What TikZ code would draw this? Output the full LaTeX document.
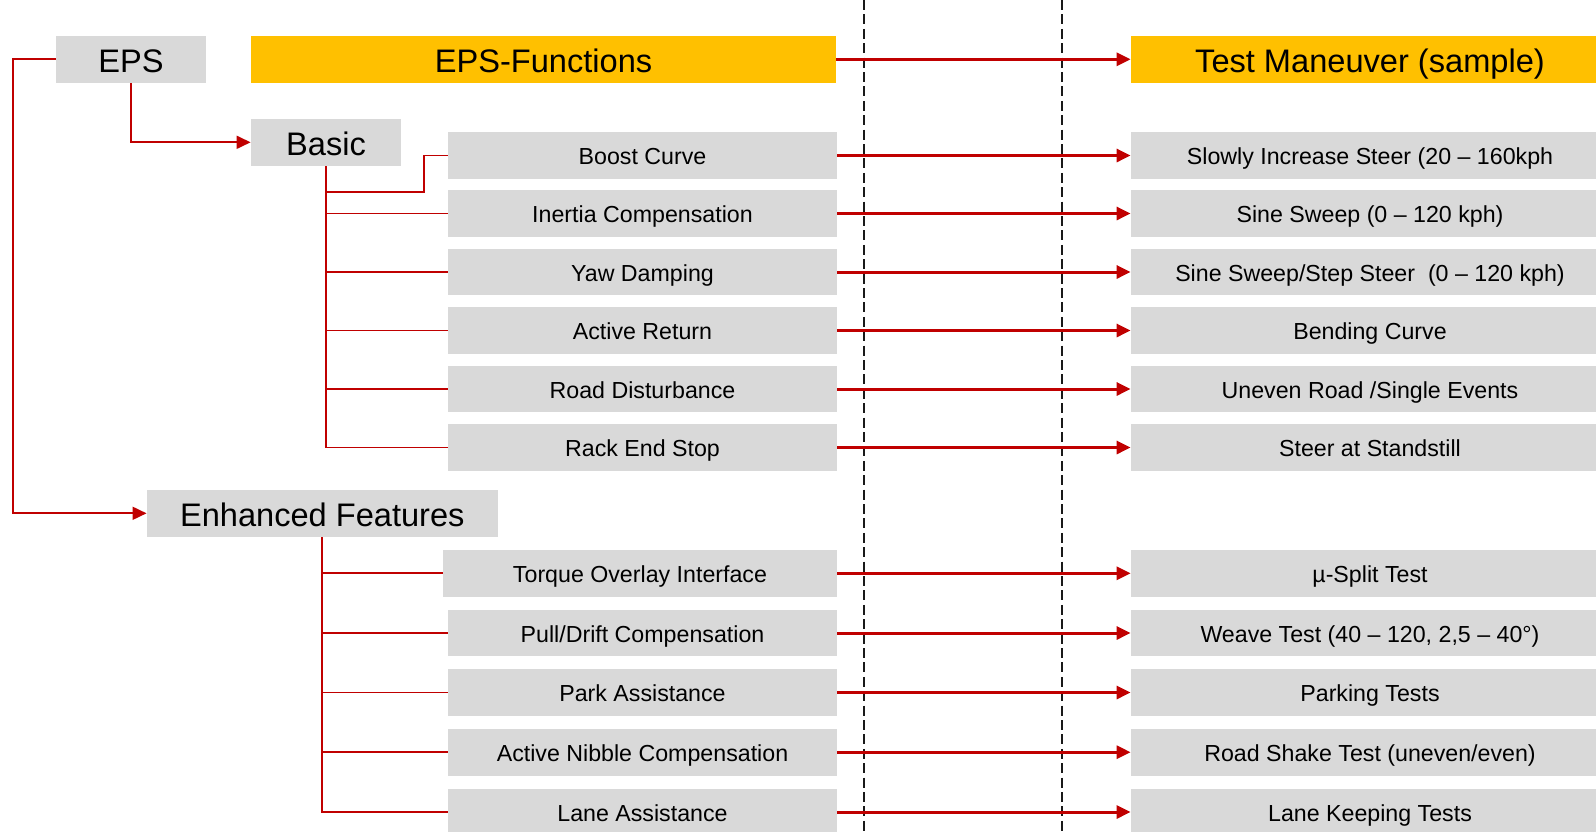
\documentclass[tikz,border=0pt]{standalone}
\usepackage{fontspec}
\setmainfont{Liberation Sans}
\usetikzlibrary{arrows.meta}
\definecolor{boxgray}{HTML}{D9D9D9}
\definecolor{headyellow}{HTML}{FFC000}
\definecolor{linkred}{HTML}{C00000}

\begin{document}
\begin{tikzpicture}[
  x=0.5pt, y=-0.5pt,
  box/.style={fill=boxgray, inner sep=0pt, minimum height=23.35pt,
    text height=9.2pt, text depth=0pt,
    font=\fontsize{11.6}{14}\selectfont},
  bigbox/.style={box, text height=13.6pt, font=\fontsize{16.3}{19}\selectfont},
  head/.style={bigbox, fill=headyellow},
  tree/.style={draw=linkred, line width=0.9pt},
  tip/.style={-{Triangle[length=7pt,width=6.5pt]}},
  link/.style={draw=linkred, line width=1.5pt, tip},
  guide/.style={draw=black!90, line width=0.85pt, dash pattern=on 5pt off 2.2pt},
]
  \useasboundingbox (0,0) rectangle (1596,831);

  % column dividers
  \draw[guide] (864.3,0) -- (864.3,831);
  \draw[guide] (1061.7,0) -- (1061.7,831);

  % headers
  \node[bigbox, minimum width=75pt] (eps) at (131,59.3) {EPS};
  \node[head, minimum width=292.5pt] (funcs) at (543.5,59.3) {EPS-Functions};
  \node[head, minimum width=239pt] (tests) at (1370,59.3) {Test Maneuver (sample)};
  \node[bigbox, minimum width=75pt] (basic) at (326,142.3) {Basic};
  \node[bigbox, minimum width=175.35pt] (enh) at (322.3,513.3) {Enhanced Features};

  % functions
  \node[box, minimum width=194.5pt] (f1) at (642.5,155.5) {Boost Curve};
  \node[box, minimum width=194.5pt] (f2) at (642.5,213.5) {Inertia Compensation};
  \node[box, minimum width=194.5pt] (f3) at (642.5,272) {Yaw Damping};
  \node[box, minimum width=194.5pt] (f4) at (642.5,330.5) {Active Return};
  \node[box, minimum width=194.5pt] (f5) at (642.5,389) {Road Disturbance};
  \node[box, minimum width=194.5pt] (f6) at (642.5,447.5) {Rack End Stop};
  \node[box, minimum width=197pt] (f7) at (640,573.3) {Torque Overlay Interface};
  \node[box, minimum width=194.5pt] (f8) at (642.5,633) {Pull/Drift Compensation};
  \node[box, minimum width=194.5pt] (f9) at (642.5,692.5) {Park Assistance};
  \node[box, minimum width=194.5pt] (f10) at (642.5,752.2) {Active Nibble Compensation};
  \node[box, minimum width=194.5pt] (f11) at (642.5,812) {Lane Assistance};

  % test maneuvers
  \node[box, minimum width=239pt] (t1) at (1370,155.5) {Slowly Increase Steer (20 – 160kph};
  \node[box, minimum width=239pt] (t2) at (1370,213.5) {Sine Sweep (0 – 120 kph)};
  \node[box, minimum width=239pt] (t3) at (1370,272) {Sine Sweep/Step Steer\ \ (0 – 120 kph)};
  \node[box, minimum width=239pt] (t4) at (1370,330.5) {Bending Curve};
  \node[box, minimum width=239pt] (t5) at (1370,389) {Uneven Road /Single Events};
  \node[box, minimum width=239pt] (t6) at (1370,447.5) {Steer at Standstill};
  \node[box, minimum width=239pt] (t7) at (1370,573.3) {µ-Split Test};
  \node[box, minimum width=239pt] (t8) at (1370,633) {Weave Test (40 – 120, 2,5 – 40°)};
  \node[box, minimum width=239pt] (t9) at (1370,692.5) {Parking Tests};
  \node[box, minimum width=239pt] (t10) at (1370,752.2) {Road Shake Test (uneven/even)};
  \node[box, minimum width=239pt] (t11) at (1370,812) {Lane Keeping Tests};

  % tree
  \coordinate (rail) at (13.3,59.3);
  \coordinate (bend) at (424,192.3);
  \draw[tree, tip] (eps.south) |- (basic.west);
  \draw[tree, tip] (eps.west) -- (rail) |- (enh.west);
  \draw[tree] (basic.south) |- (f6.west);
  \draw[tree] (basic.south |- bend) -- (bend) |- (f1.west);
  \foreach \i in {2,...,5}
    \draw[tree] (basic.south |- f\i.west) -- (f\i.west);
  \draw[tree] (enh.south) |- (f11.west);
  \foreach \i in {7,...,10}
    \draw[tree] (enh.south |- f\i.west) -- (f\i.west);

  % function -> maneuver
  \draw[link] (funcs) -- (tests);
  \foreach \i in {1,...,11}
    \draw[link] (f\i) -- (t\i);
\end{tikzpicture}
\end{document}
